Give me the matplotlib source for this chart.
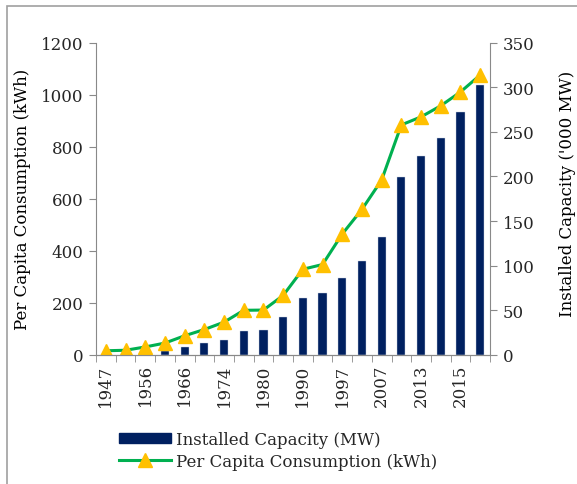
import matplotlib
matplotlib.use("Agg")
import matplotlib.pyplot as plt
import matplotlib.patches as mpatches
from matplotlib.lines import Line2D
import numpy as np

years = ["1947", "1950", "1956", "1961", "1966", "1969", "1974", "1979", "1980", "1985",
         "1990", "1992", "1997", "2002", "2007", "2012", "2013", "2014", "2015", "2016"]
capacity_gw = [1.36, 1.71, 2.89, 4.65, 9.03, 12.96, 16.66, 26.68, 28.45, 42.59,
               63.64, 69.07, 85.8, 105.05, 132.33, 199.88, 223.34, 243.03, 271.72, 302.09]
per_capita_kwh = [16.3, 18.2, 30.9, 45.9, 73.9, 97.9, 126.2, 171.6, 172.6, 228.7,
                  329.2, 347.5, 464.6, 559.2, 671.9, 883.6, 914.4, 957.0, 1010.0, 1075.0]

navy = "#002060"
green = "#00B050"
amber = "#FFC000"
grey = "#898989"
fs = 12

plt.rcParams["font.family"] = ["DejaVu Serif"]
plt.rcParams["text.color"] = "#262626"
plt.rcParams["xtick.labelcolor"] = "#262626"
plt.rcParams["ytick.labelcolor"] = "#262626"

fig = plt.figure(figsize=(5.77, 4.85), dpi=100)
ax = fig.add_axes([96 / 577, 1 - 356 / 485, (490 - 96) / 577, (356 - 43.5) / 485])
ax2 = ax.twinx()

x = np.arange(len(years))
ax2.bar(x, capacity_gw, width=0.42, color=navy, edgecolor="#C8D0E0", linewidth=0.3)
ax.plot(x, per_capita_kwh, color=green, lw=2.2, marker="^", ms=10,
        mfc=amber, mec=amber, solid_joinstyle="round")

# line above the bars
ax.set_zorder(ax2.get_zorder() + 1)
ax.patch.set_visible(False)

ax.set_xlim(-0.5, len(years) - 0.5)
ax.set_ylim(0, 1200)
ax2.set_ylim(0, 350)
ax.set_yticks(range(0, 1201, 200))
ax2.set_yticks(range(0, 351, 50))

ax.set_xticks(x[::2])
ax.set_xticklabels(years[::2], rotation=90)
ax.set_xticks(np.arange(-0.5, len(years), 1), minor=True)
ax.tick_params(axis="x", which="major", length=0, pad=6, labelsize=fs)
ax.tick_params(axis="x", which="minor", length=5, color=grey)
ax.tick_params(axis="y", length=5, color=grey, labelsize=fs, pad=4)
ax2.tick_params(axis="y", length=5, color=grey, labelsize=fs, pad=4)

for a in (ax, ax2):
    a.spines["top"].set_visible(False)
    for s in ("left", "right", "bottom"):
        a.spines[s].set_color(grey)
ax.spines["right"].set_visible(False)
ax2.spines["left"].set_visible(False)

ax.set_ylabel("Per Capita Consumption (kWh)", fontsize=fs)
ax2.set_ylabel("Installed Capacity ('000 MW)", fontsize=fs, rotation=90)
ax.yaxis.set_label_coords(-(96 - 31) / 394, 0.5)
ax2.yaxis.set_label_coords((559 - 96) / 394, 0.52)

handles = [mpatches.Patch(color=navy),
           Line2D([0], [0], color=green, lw=2.2, marker="^", ms=10, mfc=amber, mec=amber)]
fig.legend(handles, ["Installed Capacity (MW)", "Per Capita Consumption (kWh)"],
           loc="upper left", bbox_to_anchor=(104 / 577, 1 - 417 / 485), frameon=False,
           fontsize=fs, handlelength=3.1, handleheight=0.6, handletextpad=0.3,
           labelspacing=0.3)

# outer border
fig.add_artist(mpatches.Rectangle((7 / 577, -0.1), 1.2, 1 - 7 / 485 + 0.1,
                                  transform=fig.transFigure, fill=False,
                                  edgecolor="#A0A0A0", lw=1.2))

fig.savefig("out.png", dpi=100)
